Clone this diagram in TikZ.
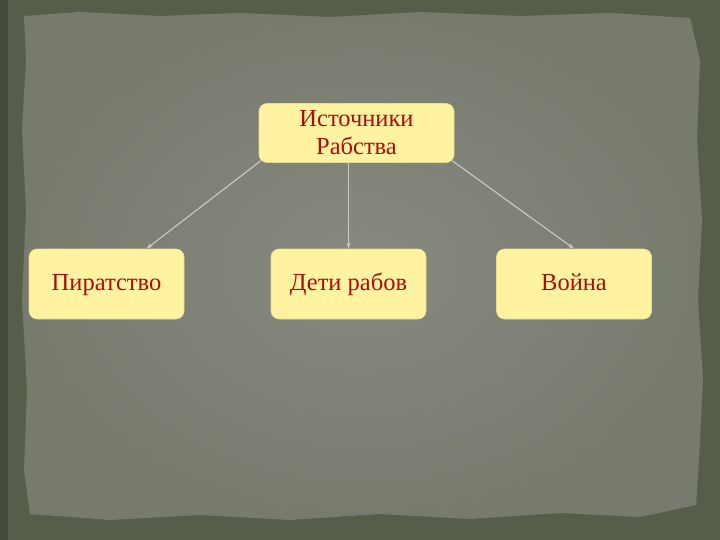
\documentclass[tikz,border=0pt]{standalone}
\usepackage{fontspec}
\setmainfont{Liberation Serif}
\usetikzlibrary{arrows.meta}
\definecolor{frameC}{HTML}{575D4B}
\definecolor{paperIn}{HTML}{878A7F}
\definecolor{paperOut}{HTML}{777B6E}
\definecolor{boxC}{HTML}{FFF3A2}
\definecolor{boxE}{HTML}{E8DC8A}
\definecolor{txtC}{HTML}{A80E0E}
\definecolor{lineC}{HTML}{C9CCBE}
\tikzset{
  box/.style={rounded corners=8pt, fill=boxC, draw=boxE, line width=0.6pt,
    minimum width=155pt, minimum height=70pt, text=txtC, font=\fontsize{24.5}{28}\selectfont,
    align=center, inner sep=2pt},
  onebox/.style={box, text height=16pt, text depth=4pt},
  conn/.style={draw=lineC, line width=1.1pt, -{Stealth[length=6pt,width=4pt]}}
}
\begin{document}
\begin{tikzpicture}[x=1pt,y=-1pt]
\useasboundingbox (0,0) rectangle (720,540);
\fill[frameC] (0,0) rectangle (720,540);
\fill[frameC!80!black] (0,0) rectangle (8,540);
\shade[inner color=paperIn, outer color=paperOut]
  (24,16) -- (80,12) -- (160,16) -- (240,13) -- (330,17) -- (420,12) -- (520,16) -- (610,13) -- (690,18)
  -- (700,60) -- (697,140) -- (702,220) -- (698,300) -- (703,380) -- (699,460) -- (696,505)
  -- (640,517) -- (560,513) -- (470,519) -- (380,514) -- (290,520) -- (200,515) -- (110,520) -- (30,514)
  -- (24,470) -- (27,390) -- (22,300) -- (26,210) -- (22,130) -- (26,60) -- cycle;
\node[box, minimum width=195pt, minimum height=59pt] (src) at (356.5,133) {Источники\\Рабства};
\node[onebox] (pir) at (106.5,284) {Пиратство};
\node[onebox] (det) at (348.5,284) {Дети рабов};
\node[onebox] (war) at (574,284) {Война};
\draw[conn] (src.south west) ++(2,-2) -- ([xshift=40pt]pir.north);
\draw[conn] ([xshift=-8pt]src.south) -- (det.north);
\draw[conn] (src.south east) ++(-2,-2) -- (war.north);
\end{tikzpicture}
\end{document}
